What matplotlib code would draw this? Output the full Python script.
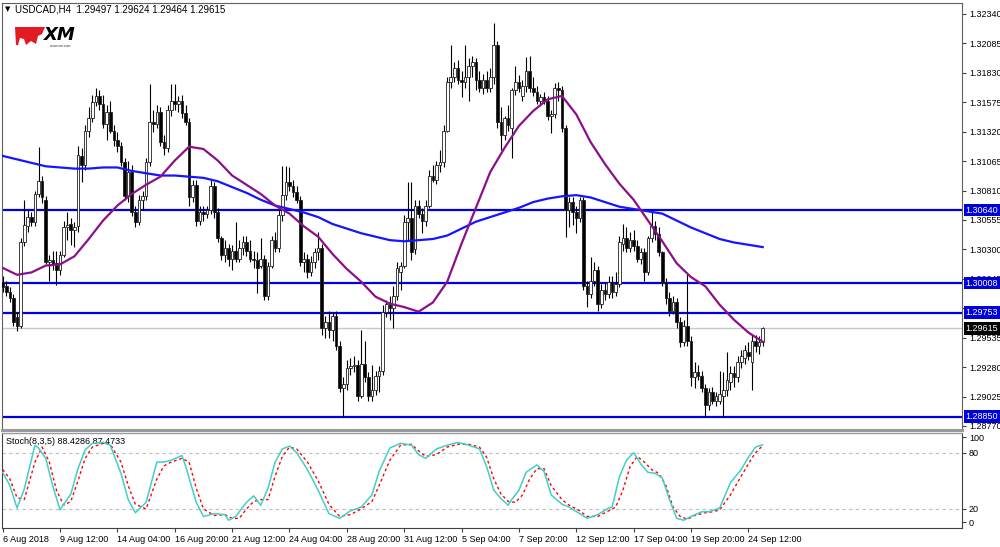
import matplotlib.pyplot as plt
from matplotlib.patches import Polygon

# ---- USDCAD H4 candles ----
opens = [1.3002, 1.2998, 1.2993, 1.2988, 1.2971, 1.2964, 1.3036, 1.3050, 1.3058, 1.3054,
         1.3078, 1.3089, 1.3073, 1.3019, 1.3021, 1.3018, 1.3012, 1.3025, 1.3049, 1.3052,
         1.3047, 1.3050, 1.3111, 1.3103, 1.3133, 1.3144, 1.3158, 1.3163, 1.3156, 1.3139,
         1.3149, 1.3133, 1.3125, 1.3120, 1.3106, 1.3076, 1.3097, 1.3062, 1.3054, 1.3073,
         1.3076, 1.3106, 1.3140, 1.3139, 1.3149, 1.3123, 1.3118, 1.3151, 1.3159, 1.3156,
         1.3159, 1.3148, 1.3140, 1.3075, 1.3086, 1.3055, 1.3062, 1.3061, 1.3064, 1.3085,
         1.3062, 1.3040, 1.3025, 1.3031, 1.3022, 1.3029, 1.3022, 1.3031, 1.3036, 1.3029,
         1.3022, 1.3021, 1.3016, 1.3022, 1.2990, 1.3016, 1.3038, 1.3031, 1.3060, 1.3077,
         1.3088, 1.3085, 1.3080, 1.3073, 1.3019, 1.3022, 1.3010, 1.3019, 1.3028, 1.3031,
         1.2962, 1.2967, 1.2960, 1.2972, 1.2946, 1.2910, 1.2913, 1.2927, 1.2929, 1.2930,
         1.2903, 1.2931, 1.2919, 1.2903, 1.2908, 1.2920, 1.2925, 1.2976, 1.2983, 1.2979,
         1.2990, 1.3010, 1.3016, 1.3054, 1.3057, 1.3030, 1.3068, 1.3061, 1.3055, 1.3068,
         1.3094, 1.3090, 1.3103, 1.3106, 1.3133, 1.3175, 1.3179, 1.3187, 1.3177, 1.3175,
         1.3179, 1.3189, 1.3192, 1.3177, 1.3170, 1.3177, 1.3170, 1.3179, 1.3207, 1.3140,
         1.3129, 1.3144, 1.3135, 1.3168, 1.3175, 1.3163, 1.3172, 1.3185, 1.3170, 1.3166,
         1.3159, 1.3162, 1.3159, 1.3146, 1.3147, 1.3170, 1.3168, 1.3135, 1.3064, 1.3071,
         1.3062, 1.3057, 1.3073, 1.2998, 1.2991, 1.3003, 1.3012, 1.2983, 1.2995, 1.2991,
         1.3002, 1.2993, 1.3000, 1.3035, 1.3040, 1.3031, 1.3038, 1.3033, 1.3022, 1.3028,
         1.3010, 1.3040, 1.3050, 1.3043, 1.3028, 1.3002, 1.2988, 1.2977, 1.2984, 1.2967,
         1.2950, 1.2964, 1.2951, 1.2919, 1.2924, 1.2920, 1.2910, 1.2895, 1.2906, 1.2899,
         1.2899, 1.2903, 1.2908, 1.2915, 1.2923, 1.2919, 1.2932, 1.2936, 1.2941, 1.2932,
         1.2951, 1.2946, 1.29497]
highs = [1.3007, 1.3003, 1.2997, 1.2991, 1.2976, 1.3040, 1.3073, 1.3064, 1.3062, 1.3081,
         1.3119, 1.3094, 1.3076, 1.3025, 1.3029, 1.3029, 1.3029, 1.3055, 1.3062, 1.3057,
         1.3054, 1.3120, 1.3118, 1.3138, 1.3153, 1.3164, 1.3170, 1.3168, 1.3164, 1.3155,
         1.3159, 1.3138, 1.3132, 1.3123, 1.3109, 1.3107, 1.3103, 1.3068, 1.3077, 1.3081,
         1.3109, 1.3173, 1.3151, 1.3155, 1.3153, 1.3129, 1.3155, 1.3173, 1.3173, 1.3163,
         1.3164, 1.3155, 1.3144, 1.3090, 1.3090, 1.3068, 1.3068, 1.3068, 1.3090, 1.3088,
         1.3066, 1.3042, 1.3038, 1.3035, 1.3034, 1.3054, 1.3038, 1.3042, 1.3042, 1.3038,
         1.3029, 1.3028, 1.3040, 1.3025, 1.3019, 1.3042, 1.3045, 1.3064, 1.3102, 1.3102,
         1.3101, 1.3090, 1.3085, 1.3076, 1.3028, 1.3026, 1.3024, 1.3031, 1.3045, 1.3035,
         1.2972, 1.2977, 1.2976, 1.2977, 1.2951, 1.2919, 1.2934, 1.2936, 1.2938, 1.2934,
         1.2960, 1.2951, 1.2924, 1.2930, 1.2925, 1.2929, 1.2982, 1.2986, 1.2990, 1.2998,
         1.3019, 1.3019, 1.3060, 1.3088, 1.3088, 1.3073, 1.3073, 1.3066, 1.3073, 1.3099,
         1.3103, 1.3107, 1.3116, 1.3138, 1.3179, 1.3207, 1.3192, 1.3194, 1.3185, 1.3207,
         1.3196, 1.3198, 1.3196, 1.3185, 1.3182, 1.3185, 1.3187, 1.3226, 1.3211, 1.3153,
         1.3146, 1.3155, 1.3170, 1.3189, 1.3181, 1.3177, 1.3197, 1.3198, 1.3179, 1.3172,
         1.3165, 1.3166, 1.3163, 1.3151, 1.3174, 1.3175, 1.3172, 1.3138, 1.3075, 1.3075,
         1.3068, 1.3075, 1.3075, 1.3003, 1.3023, 1.3019, 1.3016, 1.3000, 1.3002, 1.3007,
         1.3007, 1.3010, 1.3042, 1.3052, 1.3049, 1.3045, 1.3047, 1.3038, 1.3031, 1.3031,
         1.3042, 1.3062, 1.3055, 1.3049, 1.3029, 1.3005, 1.2993, 1.2990, 1.2988, 1.2971,
         1.2969, 1.3009, 1.2955, 1.2932, 1.2930, 1.2925, 1.2913, 1.2910, 1.2911, 1.2906,
         1.2925, 1.2924, 1.2941, 1.2929, 1.2929, 1.2938, 1.2943, 1.2947, 1.2950, 1.2956,
         1.2956, 1.2955, 1.29624]
lows = [1.2993, 1.2990, 1.2984, 1.2964, 1.2959, 1.2962, 1.3033, 1.3045, 1.3050, 1.3050,
        1.3075, 1.3070, 1.3017, 1.3003, 1.3012, 1.2999, 1.3008, 1.3023, 1.3038, 1.3034,
        1.3032, 1.3045, 1.3088, 1.3099, 1.3127, 1.3140, 1.3154, 1.3151, 1.3135, 1.3125,
        1.3131, 1.3120, 1.3114, 1.3102, 1.3073, 1.3071, 1.3059, 1.3049, 1.3051, 1.3064,
        1.3073, 1.3102, 1.3132, 1.3135, 1.3120, 1.3112, 1.3114, 1.3146, 1.3151, 1.3149,
        1.3144, 1.3138, 1.3068, 1.3071, 1.3050, 1.3051, 1.3055, 1.3057, 1.3061, 1.3057,
        1.3036, 1.3021, 1.3019, 1.3016, 1.3012, 1.3019, 1.3019, 1.3025, 1.3024, 1.3019,
        1.3014, 1.2992, 1.3014, 1.2986, 1.2986, 1.3014, 1.3028, 1.3028, 1.3055, 1.3073,
        1.3081, 1.3075, 1.3070, 1.3016, 1.3010, 1.3005, 1.3007, 1.3014, 1.3021, 1.2956,
        1.2953, 1.2953, 1.2951, 1.2943, 1.2906, 1.2885, 1.2908, 1.2921, 1.2924, 1.2899,
        1.2901, 1.2915, 1.2899, 1.2899, 1.2904, 1.2906, 1.2921, 1.2971, 1.2969, 1.2962,
        1.2986, 1.2995, 1.3014, 1.3038, 1.3021, 1.3026, 1.3057, 1.3044, 1.3050, 1.3066,
        1.3088, 1.3087, 1.3097, 1.3101, 1.3132, 1.3170, 1.3175, 1.3173, 1.3162, 1.3170,
        1.3159, 1.3179, 1.3168, 1.3166, 1.3165, 1.3166, 1.3166, 1.3173, 1.3135, 1.3116,
        1.3125, 1.3133, 1.3109, 1.3164, 1.3166, 1.3159, 1.3166, 1.3166, 1.3163, 1.3156,
        1.3155, 1.3156, 1.3142, 1.3131, 1.3144, 1.3159, 1.3132, 1.3041, 1.3049, 1.3051,
        1.3044, 1.3054, 1.2995, 1.2980, 1.2988, 1.2998, 1.2977, 1.2979, 1.2986, 1.2988,
        1.2988, 1.2990, 1.2997, 1.3029, 1.3028, 1.3028, 1.3029, 1.3019, 1.3017, 1.3003,
        1.3008, 1.3036, 1.3038, 1.3024, 1.2998, 1.2983, 1.2972, 1.2974, 1.2962, 1.2945,
        1.2946, 1.2946, 1.2912, 1.2910, 1.2917, 1.2906, 1.2885, 1.2891, 1.2896, 1.2894,
        1.2896, 1.2885, 1.2903, 1.2908, 1.2911, 1.2915, 1.2927, 1.2931, 1.2934, 1.2908,
        1.2941, 1.2939, 1.29464]
closes = [1.2997, 1.2993, 1.2988, 1.2967, 1.2964, 1.3036, 1.3051, 1.3058, 1.3054, 1.3078,
          1.3089, 1.3075, 1.3019, 1.3021, 1.3017, 1.3012, 1.3025, 1.3049, 1.3051, 1.3047,
          1.3049, 1.3112, 1.3103, 1.3133, 1.3144, 1.3158, 1.3163, 1.3156, 1.3139, 1.3149,
          1.3133, 1.3125, 1.3120, 1.3106, 1.3076, 1.3097, 1.3062, 1.3054, 1.3073, 1.3076,
          1.3106, 1.3140, 1.3139, 1.3149, 1.3123, 1.3118, 1.3151, 1.3159, 1.3156, 1.3159,
          1.3148, 1.3140, 1.3075, 1.3086, 1.3055, 1.3062, 1.3061, 1.3064, 1.3085, 1.3062,
          1.3040, 1.3025, 1.3031, 1.3022, 1.3029, 1.3022, 1.3031, 1.3036, 1.3029, 1.3022,
          1.3021, 1.3014, 1.3022, 1.2990, 1.3016, 1.3038, 1.3031, 1.3060, 1.3077, 1.3088,
          1.3085, 1.3080, 1.3073, 1.3019, 1.3022, 1.3010, 1.3019, 1.3028, 1.3031, 1.2962,
          1.2967, 1.2960, 1.2972, 1.2946, 1.2910, 1.2913, 1.2927, 1.2929, 1.2930, 1.2903,
          1.2931, 1.2919, 1.2903, 1.2908, 1.2920, 1.2925, 1.2976, 1.2983, 1.2979, 1.2990,
          1.3014, 1.3016, 1.3054, 1.3057, 1.3028, 1.3068, 1.3061, 1.3055, 1.3068, 1.3094,
          1.3090, 1.3103, 1.3106, 1.3133, 1.3175, 1.3179, 1.3187, 1.3177, 1.3175, 1.3179,
          1.3189, 1.3192, 1.3177, 1.3170, 1.3177, 1.3170, 1.3179, 1.3207, 1.3140, 1.3129,
          1.3144, 1.3138, 1.3168, 1.3175, 1.3170, 1.3172, 1.3185, 1.3170, 1.3166, 1.3159,
          1.3162, 1.3159, 1.3146, 1.3147, 1.3170, 1.3168, 1.3135, 1.3064, 1.3071, 1.3062,
          1.3057, 1.3073, 1.2998, 1.2991, 1.3003, 1.3012, 1.2983, 1.2995, 1.2991, 1.3002,
          1.2993, 1.3000, 1.3036, 1.3040, 1.3031, 1.3038, 1.3033, 1.3022, 1.3028, 1.3010,
          1.3040, 1.3050, 1.3043, 1.3028, 1.3002, 1.2988, 1.2977, 1.2984, 1.2967, 1.2950,
          1.2964, 1.2951, 1.2919, 1.2924, 1.2920, 1.2910, 1.2895, 1.2906, 1.2899, 1.2903,
          1.2905, 1.2908, 1.2917, 1.2923, 1.2919, 1.2932, 1.2938, 1.2943, 1.2938, 1.2951,
          1.2946, 1.2950, 1.29615]

# moving averages, sampled every 4 bars (last at bar 212)
ma_bars = list(range(0, 212, 4)) + [212]
ma_fast = [1.3014, 1.3008, 1.3010, 1.3016, 1.3017, 1.3024, 1.3039, 1.3055, 1.3068, 1.3078,
           1.3086, 1.3093, 1.3107, 1.3119, 1.3117, 1.3107, 1.3094, 1.3086, 1.3078, 1.3068,
           1.3061, 1.3050, 1.3041, 1.3026, 1.3013, 1.3002, 1.2989, 1.2983, 1.2980, 1.2976,
           1.2984, 1.3002, 1.3035, 1.3066, 1.3097, 1.3118, 1.3137, 1.3150, 1.3160, 1.3163,
           1.3147, 1.3123, 1.3104, 1.3087, 1.3073, 1.3055, 1.3037, 1.3018, 1.3006, 1.2998,
           1.2982, 1.2969, 1.2958, 1.2950]
ma_slow = [1.3111, 1.3108, 1.3105, 1.3102, 1.3101, 1.3100, 1.3100, 1.3101, 1.3101, 1.3098,
           1.3096, 1.3094, 1.3094, 1.3093, 1.3092, 1.3089, 1.3084, 1.3079, 1.3073, 1.3068,
           1.3065, 1.3062, 1.3058, 1.3052, 1.3048, 1.3044, 1.3041, 1.3038, 1.3037, 1.3038,
           1.3039, 1.3042, 1.3048, 1.3054, 1.3058, 1.3062, 1.3066, 1.3071, 1.3074, 1.3076,
           1.3077, 1.3075, 1.3071, 1.3067, 1.3065, 1.3063, 1.3061, 1.3055, 1.3049, 1.3044,
           1.3039, 1.3036, 1.3034, 1.3032]

# horizontal levels
levels = [1.30640, 1.30008, 1.29753, 1.28850]
bid = 1.29615

price_ticks = [1.32340, 1.32085, 1.31830, 1.31575, 1.31320, 1.31065, 1.30810, 1.30555,
               1.30300, 1.30045, 1.29790, 1.29535, 1.29280, 1.29025, 1.28770]

# stochastic (8,3,5)
k_bars = [0, 2, 4, 6, 9, 10, 12, 14, 16, 19, 21, 23, 25, 28, 30, 33, 35, 37, 40, 43, 45, 47,
          50, 51, 54, 56, 59, 62, 63, 65, 68, 70, 72, 74, 76, 78, 80, 82, 85, 88, 91, 94, 97,
          100, 103, 105, 108, 111, 114, 116, 118, 121, 124, 127, 130, 133, 135, 137, 139,
          141, 142, 144, 146, 149, 151, 153, 156, 158, 161, 163, 166, 169, 170, 172, 174,
          176, 178, 180, 182, 184, 186, 188, 190, 192, 195, 197, 200, 203, 206, 208, 210, 212]
k_vals = [59, 45, 21, 41, 88, 85, 74, 44, 19, 36, 63, 83, 90, 91, 88, 58, 30, 16, 27, 70, 70,
          72, 77, 66, 27, 12, 15, 14, 8, 12, 27, 34, 24, 42, 70, 84, 87, 80, 62, 40, 15, 10,
          18, 22, 35, 60, 85, 90, 88, 78, 74, 84, 88, 91, 88, 84, 65, 40, 31, 24, 30, 40, 59,
          67, 60, 35, 25, 22, 15, 10, 14, 21, 22, 54, 72, 80, 68, 59, 58, 53, 30, 10, 8, 12,
          17, 17, 21, 48, 62, 75, 86, 88.4286]
d_bars = [0, 2, 4, 6, 9, 11, 13, 15, 17, 19, 21, 23, 25, 28, 30, 33, 35, 37, 40, 43, 45, 47,
          50, 52, 54, 56, 59, 62, 64, 66, 68, 70, 72, 74, 76, 78, 80, 82, 85, 88, 91, 94, 97,
          100, 103, 105, 108, 111, 114, 116, 118, 121, 124, 127, 130, 133, 135, 137, 139,
          141, 143, 145, 147, 149, 151, 153, 156, 158, 161, 163, 166, 169, 171, 173, 175,
          177, 179, 181, 183, 185, 187, 189, 191, 193, 196, 198, 200, 203, 206, 208, 210, 212]
d_vals = [62, 52, 32, 30, 70, 86, 70, 40, 24, 28, 50, 74, 86, 90, 89, 70, 45, 25, 20, 52, 66,
          70, 74, 70, 42, 20, 13, 14, 10, 10, 20, 28, 30, 30, 55, 76, 86, 84, 70, 50, 25, 12,
          14, 20, 28, 45, 72, 88, 89, 82, 76, 78, 86, 89, 89, 86, 75, 52, 36, 28, 27, 35, 52,
          63, 63, 45, 30, 24, 18, 12, 12, 18, 22, 40, 65, 76, 70, 62, 58, 45, 22, 12, 9, 13,
          16, 17, 19, 35, 55, 68, 80, 87.4733]

time_ticks = [0, 16, 32, 48, 64, 80, 96, 112, 128, 144, 160, 176, 192, 208]
time_labels = ['6 Aug 2018', '9 Aug 12:00', '14 Aug 04:00', '16 Aug 20:00', '21 Aug 12:00',
               '24 Aug 04:00', '28 Aug 20:00', '31 Aug 12:00', '5 Sep 04:00', '7 Sep 20:00',
               '12 Sep 12:00', '17 Sep 04:00', '19 Sep 20:00', '24 Sep 12:00']

plt.rcParams['font.family'] = ['Liberation Sans', 'DejaVu Sans']
FS = 6.5

W, H = 1000, 547
fig = plt.figure(figsize=(W / 100, H / 100), dpi=100)
ax = fig.add_axes([2 / W, 1 - 430 / H, 960 / W, 427 / H])
ax_st = fig.add_axes([2 / W, 1 - 528 / H, 960 / W, 95 / H], sharex=ax)

# candles
bars = range(len(closes))
wick_lo = [min(l, o, c) for l, o, c in zip(lows, opens, closes)]
wick_hi = [max(h, o, c) for h, o, c in zip(highs, opens, closes)]
ax.vlines(bars, wick_lo, wick_hi, color='black', lw=0.8, zorder=3)
body_h = [c - o for o, c in zip(opens, closes)]
body_col = ['white' if c >= o else 'black' for o, c in zip(opens, closes)]
ax.bar(bars, body_h, bottom=opens, width=0.74, color=body_col, edgecolor='#202020',
       linewidth=0.6, zorder=4)

# moving averages
ax.plot(ma_bars, ma_slow, color='#1515FF', lw=1.6, zorder=5)
ax.plot(ma_bars, ma_fast, color='#8B108B', lw=1.6, zorder=5)

# levels and bid line
for lv in levels:
    ax.axhline(lv, color='#0000E6', lw=1.6, zorder=2)
ax.axhline(bid, color='#C8C8C8', lw=1.0, zorder=1)

ax.set_xlim(-0.195, 267.6)
ax.set_ylim(1.28735, 1.32435)
ax.yaxis.tick_right()
ax.set_yticks(price_ticks)
ax.set_yticklabels([f'{t:.5f}' for t in price_ticks])
ax.tick_params(axis='y', labelsize=FS, length=3, pad=2, color='#404040')
ax.tick_params(axis='x', bottom=False, labelbottom=False)
for side in ['left', 'right', 'top']:
    ax.spines[side].set_color('#606060')
    ax.spines[side].set_linewidth(0.8)
ax.spines['bottom'].set_color('#9A9A9A')
ax.spines['bottom'].set_linewidth(2.2)

ytr = ax.get_yaxis_transform()
for lv in levels:
    ax.text(1.0035, lv, f'{lv:.5f}', transform=ytr, fontsize=FS, color='white', va='center',
            ha='left', zorder=10,
            bbox=dict(boxstyle='square,pad=0.2', fc='#0000D8', ec='none'))
ax.text(1.0035, bid, f'{bid:.5f}', transform=ytr, fontsize=FS, color='white', va='center',
        ha='left', zorder=10, bbox=dict(boxstyle='square,pad=0.2', fc='black', ec='none'))

# header
fig.text(5 / W, 1 - 9 / H, '\u25BC', fontsize=5, va='center', ha='left',
         family=['DejaVu Sans'])
fig.text(15 / W, 1 - 9 / H, 'USDCAD,H4  1.29497 1.29624 1.29464 1.29615', fontsize=FS + 0.5,
         va='center', ha='left')

# XM logo
logo = fig.add_axes([14 / W, 1 - 50 / H, 66 / W, 26 / H])
logo.set_xlim(0, 66)
logo.set_ylim(26, 0)
logo.axis('off')
logo.add_patch(Polygon([[1, 3], [31, 3], [28, 10], [24, 12], [22, 20], [17, 17], [12, 21],
                        [10, 15], [6, 14], [4, 21], [2, 21]],
                       closed=True, fc='#E21B23', ec='none'))
logo.text(30, 11, 'XM', fontsize=13, fontweight='bold', fontstyle='italic', va='center',
          ha='left', color='black', family=['DejaVu Sans'])
logo.text(46, 22, 'www.xm.com', fontsize=2.5, va='center', ha='center', color='#333333')

# stochastic panel
ax_st.plot(d_bars, d_vals, color='#FF0000', lw=1.0, ls=(0, (2, 2)), zorder=3)
ax_st.plot(k_bars, k_vals, color='#40D0C8', lw=1.1, zorder=4)
for lv in [80, 20]:
    ax_st.axhline(lv, color='#BDBDBD', lw=0.8, ls=(0, (3, 3)), zorder=1)
ax_st.set_ylim(-0.3, 101)
ax_st.yaxis.tick_right()
ax_st.set_yticks([96.5, 80, 20, 6])
ax_st.set_yticklabels(['100', '80', '20', '0'])
ax_st.tick_params(axis='y', labelsize=FS, length=3, pad=2, color='#404040')
ax_st.set_xticks(time_ticks)
ax_st.set_xticklabels(time_labels, ha='left')
ax_st.tick_params(axis='x', labelsize=FS, length=3, pad=2, color='#404040')
for side in ['left', 'right', 'bottom']:
    ax_st.spines[side].set_color('#404040')
    ax_st.spines[side].set_linewidth(0.8)
ax_st.spines['top'].set_color('#9A9A9A')
ax_st.spines['top'].set_linewidth(1.0)
ax_st.text(0.004, 0.915, 'Stoch(8,3,5) 88.4286 87.4733', transform=ax_st.transAxes,
           fontsize=FS, va='center', ha='left')

fig.savefig('out.png', dpi=100)
